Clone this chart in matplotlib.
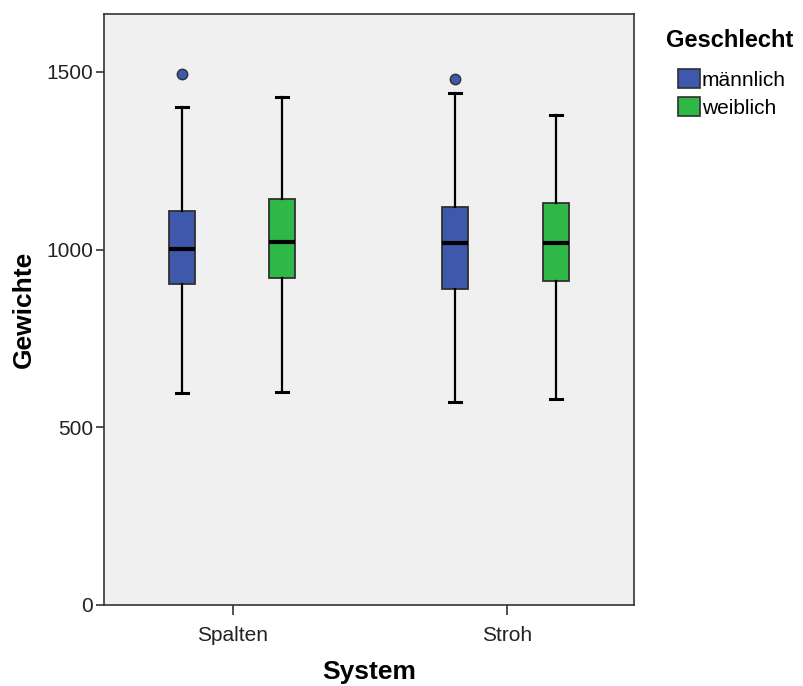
"""Boxplot of Gewichte by System and Geschlecht."""

import matplotlib

matplotlib.use("Agg")
import matplotlib.pyplot as plt
from matplotlib.patches import Patch

plt.rcParams["font.family"] = ["Liberation Sans", "DejaVu Sans"]

# values
systems = ["Spalten", "Stroh"]
groups = ["männlich", "weiblich"]
colors = ["#3E58AC", "#2EB848"]

# per group: one value per system
whisker_low = {"männlich": [596, 571], "weiblich": [600, 581]}
quartile_1 = {"männlich": [903, 889], "weiblich": [920, 911]}
medians = {"männlich": [1003, 1019], "weiblich": [1022, 1020]}
quartile_3 = {"männlich": [1110, 1120], "weiblich": [1143, 1130]}
whisker_high = {"männlich": [1400, 1440], "weiblich": [1430, 1379]}
outliers = {"männlich": [[1494], [1480]], "weiblich": [[], []]}

y_ticks = [0, 500, 1000, 1500]

figure = plt.figure(figsize=(8.04, 6.86), dpi=100)
axis = figure.add_axes([0.1294, 0.1181, 0.6592, 0.8615])
axis.set_facecolor("#F0F0F0")

offsets = [-0.187, 0.18]
for group, color, offset in zip(groups, colors, offsets):
    stats = []
    for i in range(len(systems)):
        stats.append(
            {
                "whislo": whisker_low[group][i],
                "q1": quartile_1[group][i],
                "med": medians[group][i],
                "q3": quartile_3[group][i],
                "whishi": whisker_high[group][i],
                "fliers": outliers[group][i],
            }
        )
    positions = [i + offset for i in range(len(systems))]
    axis.bxp(
        stats,
        positions=positions,
        widths=0.095,
        capwidths=0.044,
        patch_artist=True,
        manage_ticks=False,
        boxprops={"facecolor": color, "edgecolor": "#303030", "linewidth": 1.3},
        medianprops={"color": "black", "linewidth": 3},
        whiskerprops={"color": "black", "linewidth": 1.6},
        capprops={"color": "black", "linewidth": 2.2},
        flierprops={
            "marker": "o",
            "markerfacecolor": color,
            "markeredgecolor": "#303030",
            "markersize": 7.5,
            "markeredgewidth": 1.0,
        },
    )

axis.set_xlim(-0.47, 1.465)
axis.set_ylim(0, 1663)
axis.set_xticks(range(len(systems)))
axis.set_xticklabels(systems, fontsize=15, color="#222222")
axis.set_yticks(y_ticks)
axis.set_yticklabels([str(v) for v in y_ticks], fontsize=15, color="#222222")
axis.tick_params(axis="x", length=7, width=1.2, color="#333333", pad=8)
axis.tick_params(axis="y", length=6, width=1.2, color="#333333", pad=2)
for spine in axis.spines.values():
    spine.set_color("#333333")
    spine.set_linewidth(1.2)

axis.set_xlabel("System", fontsize=19, fontweight="bold", labelpad=11)
axis.set_ylabel("Gewichte", fontsize=19, fontweight="bold", labelpad=7)

# legend: title placed on its own, entries indented below it
figure.text(
    666 / 804, 1 - 47 / 686, "Geschlecht",
    fontsize=17, fontweight="bold", ha="left", va="baseline",
)
handles = [Patch(facecolor=c, edgecolor="#303030", linewidth=1.2) for c in colors]
figure.legend(
    handles,
    groups,
    loc="upper left",
    bbox_to_anchor=(678 / 804, 1 - 69 / 686),
    frameon=False,
    fontsize=15,
    handlelength=1.05,
    handleheight=1.05,
    handletextpad=0.1,
    labelspacing=0.35,
    borderpad=0,
    borderaxespad=0,
)

figure.savefig("out.png", dpi=100, facecolor="white")
plt.close(figure)
